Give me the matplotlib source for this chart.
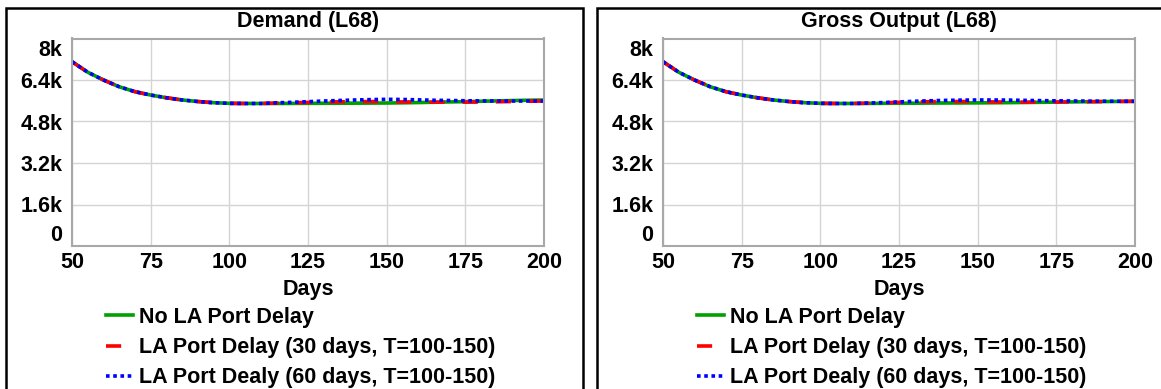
import matplotlib
matplotlib.use("Agg")
import matplotlib.pyplot as plt
from matplotlib.patches import Rectangle
from matplotlib.lines import Line2D
from matplotlib.transforms import ScaledTranslation

plt.rcParams['font.family'] = ['Liberation Sans', 'DejaVu Sans']
plt.rcParams['font.weight'] = 'bold'

# data
days = list(range(50, 201, 5))

demand_none = [7105, 6700, 6400, 6140, 5950, 5820, 5715, 5630, 5570, 5525, 5500, 5495, 5495,
               5495, 5497, 5500, 5502, 5505, 5507, 5510, 5513, 5520, 5530, 5542, 5555, 5565,
               5580, 5595, 5608, 5620, 5628]
demand_30 = [7105, 6700, 6400, 6140, 5950, 5820, 5715, 5630, 5570, 5525, 5500, 5495, 5495,
             5510, 5522, 5535, 5548, 5560, 5566, 5570, 5563, 5555, 5550, 5545, 5545, 5545,
             5550, 5560, 5570, 5580, 5590]
demand_60 = [7105, 6700, 6400, 6140, 5950, 5820, 5715, 5630, 5570, 5525, 5500, 5495, 5495,
             5520, 5540, 5565, 5590, 5610, 5630, 5645, 5655, 5650, 5635, 5620, 5610, 5600,
             5595, 5590, 5590, 5590, 5590]

gross_none = [7105, 6700, 6400, 6140, 5950, 5820, 5715, 5630, 5570, 5525, 5500, 5495, 5495,
              5497, 5500, 5503, 5506, 5510, 5513, 5515, 5518, 5522, 5527, 5533, 5540, 5547,
              5555, 5562, 5568, 5574, 5578]
gross_30 = [7105, 6700, 6400, 6140, 5950, 5820, 5715, 5630, 5570, 5525, 5500, 5495, 5495,
            5505, 5520, 5540, 5555, 5565, 5570, 5570, 5565, 5555, 5548, 5545, 5545, 5548,
            5555, 5562, 5568, 5574, 5578]
gross_60 = [7105, 6700, 6400, 6140, 5950, 5820, 5715, 5630, 5570, 5525, 5500, 5495, 5495,
            5510, 5530, 5555, 5580, 5600, 5615, 5625, 5630, 5630, 5625, 5615, 5605, 5598,
            5592, 5587, 5583, 5580, 5578]

titles = ['Demand (L68)', 'Gross Output (L68)']
series_labels = ['No LA Port Delay',
                 'LA Port Delay (30 days, T=100-150)',
                 'LA Port Dealy (60 days, T=100-150)']
x_ticks = [50, 75, 100, 125, 150, 175, 200]
y_ticks = [0, 1600, 3200, 4800, 6400, 8000]
y_tick_labels = ['0', '1.6k', '3.2k', '4.8k', '6.4k', '8k']

W, H = 1161, 389
fig = plt.figure(figsize=(W / 100, H / 100), dpi=100)

green, red, blue = '#00a000', '#ff0000', '#0000ff'
lw = 2.6
fs = 15.5
red_dash = (4.2, 5.0)
blue_dot = (1.0, 1.0)

panels = [
    (72, 583 - 6, 6, titles[0], [demand_none, demand_30, demand_60]),
    (663, 1170 - 597, 597, titles[1], [gross_none, gross_30, gross_60]),
]

for ax_left, box_w, box_x, title, data in panels:
    # outer black frame
    fig.patches.append(Rectangle((box_x / W, -0.05), box_w / W, (1.05 - 8 / H),
                                 transform=fig.transFigure, fill=False,
                                 edgecolor='black', linewidth=1.8))
    ax = fig.add_axes([ax_left / W, 1 - 246 / H, 472 / W, 207.5 / H])
    ax.plot(days, data[0], color=green, lw=lw, solid_capstyle='butt')
    ax.plot(days, data[1], color=red, lw=lw, dashes=red_dash)
    ax.plot(days, data[2], color=blue, lw=lw, dashes=blue_dot)
    ax.set_xlim(50, 200)
    ax.set_ylim(0, 8000)
    ax.set_xticks(x_ticks)
    ax.set_yticks(y_ticks)
    ax.set_yticklabels(y_tick_labels)
    ax.tick_params(length=0, labelsize=fs, pad=4)
    ax.tick_params(axis='y', pad=7)
    ax.grid(True, color='#d4d4d4', lw=1)
    for sp in ax.spines.values():
        sp.set_color('#a8a8a8')
        sp.set_linewidth(1.5)
    # nudge the end labels inwards, like the original
    labels = ax.get_yticklabels()
    labels[-1].set_transform(labels[-1].get_transform() +
                             ScaledTranslation(0, -0.10, fig.dpi_scale_trans))
    labels[0].set_transform(labels[0].get_transform() +
                            ScaledTranslation(0, 0.13, fig.dpi_scale_trans))
    cx = (ax_left + 236) / W
    fig.text(cx, 1 - 21 / H, title, ha='center', va='center', fontsize=fs, fontweight='bold')
    fig.text(cx, 1 - 290 / H, 'Days', ha='center', va='center', fontsize=fs, fontweight='bold')

    handles = [Line2D([], [], color=green, lw=lw),
               Line2D([], [], color=red, lw=lw, dashes=red_dash),
               Line2D([], [], color=blue, lw=lw, dashes=blue_dot)]
    fig.legend(handles, series_labels, loc='upper left',
               bbox_to_anchor=((ax_left + 34) / W, 1 - 307 / H),
               frameon=False, borderpad=0, borderaxespad=0,
               handlelength=1.24, handletextpad=0.28, labelspacing=0.42,
               prop={'weight': 'bold', 'size': fs})

fig.savefig('out.png', dpi=100)
